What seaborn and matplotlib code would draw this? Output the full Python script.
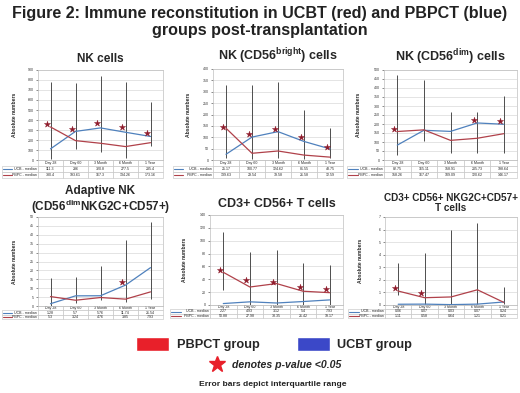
import numpy as np
import pandas as pd
import matplotlib
matplotlib.use('Agg')
import matplotlib.pyplot as plt
import seaborn as sns
from matplotlib.patches import Patch
from matplotlib.lines import Line2D

sns.set_theme(style='white')
plt.rcParams['font.family'] = ['Liberation Sans', 'DejaVu Sans']
plt.rcParams['mathtext.fontset'] = 'custom'
plt.rcParams['mathtext.rm'] = 'Liberation Sans'
plt.rcParams['mathtext.bf'] = 'Liberation Sans:bold'

# time points (x categories / table header)
times = ['Day 28', 'Day 60', '3 Month', '6 Month', '1 Year']

# NK cells
nk_ucb = [111.3, 286, 320.8, 277.5, 235.4]
nk_pbpc = [330.4, 193.61, 167.3, 134.26, 173.16]
nk_lo = [15, 115, 80, 17, 140]
nk_hi = [780, 770, 840, 783, 583]
nk_star = [357, 307, 367, 333, 273]

# NK CD56 bright
br_ucb = [25.17, 100.77, 124.62, 81.55, 48.75]
br_pbpc = [139.63, 29.54, 39.58, 21.58, 12.59]
br_lo = [10, 5, 10, 5, 10]
br_hi = [331, 331, 341, 220, 140]
br_star = [147, 113, 135, 103, 59]

# NK CD56 dim
dim_ucb = [82.75, 165.11, 158.91, 205.73, 198.64]
dim_pbpc = [158.26, 167.47, 109.09, 120.62, 146.17]
dim_lo = [28, 107, 37, 37, 37]
dim_hi = [472, 444, 269, 269, 356]
dim_star = [170, None, None, 222, 217]

# Adaptive NK
ad_ucb = [1.28, 5.7, 5.76, 11.74, 21.54]
ad_pbpc = [5.3, 3.24, 4.76, 3.85, 7.93]
ad_lo = [0, 1.5, 3.4, 2.4, 3.7]
ad_hi = [15.5, 16.4, 22.4, 37, 47.2]
ad_star = [None, None, None, 13.4, None]

# CD3+ CD56+ T cells
t_ucb = [2.27, 4.93, 3.12, 5.4, 7.93]
t_pbpc = [50.88, 27.98, 33.35, 21.42, 19.17]
t_lo = [23, 0.5, 0.5, 0.5, 0.5]
t_hi = [114, 83, 85.5, 65, 62]
t_star = [54.4, 38.4, 36.3, 27.5, 24.4]

# CD3+ CD56+ NKG2C+CD57+ T cells
tk_ucb = [0.06, 0.07, 0.03, 0.07, 0.24]
tk_pbpc = [1.11, 0.58, 0.64, 1.21, 0.21]
tk_lo = [0.8, 0.1, 0.1, 0.1, 0.1]
tk_hi = [3.35, 4.1, 6.0, 6.5, 1.4]
tk_star = [1.37, 0.92, None, None, None]

UCB_COL = '#4f81bd'
PBPC_COL = '#b0414a'
STAR_COL = '#8e1a2a'

W, H = 520, 393
fig = plt.figure(figsize=(5.2, 3.93), dpi=100)


def px(l, t, r, b):
    return [l / W, 1 - b / H, (r - l) / W, (b - t) / H]


def panel(rect, title, ucb, pbpc, lo, hi, star, ymax, ystep, lab_px, tab_h, title_pad, tsize):
    ax = fig.add_axes(px(*rect))
    x = np.arange(len(times))
    df = pd.DataFrame({'x': np.concatenate([x, x]),
                       'v': list(ucb) + list(pbpc),
                       'g': ['UCB'] * len(x) + ['PBPC'] * len(x)})
    ax.vlines(x, lo, hi, color='#4d4d4d', lw=0.7, zorder=1)
    sns.lineplot(data=df, x='x', y='v', hue='g', palette={'UCB': UCB_COL, 'PBPC': PBPC_COL},
                 lw=0.9, legend=False, ax=ax, zorder=2)
    sd = pd.DataFrame({'x': x - 0.13, 'v': star}).dropna()
    sns.scatterplot(data=sd, x='x', y='v', marker='*', s=22, color=STAR_COL,
                    edgecolor=STAR_COL, linewidth=0.3, ax=ax, zorder=3)
    ax.set_xlim(-0.5, len(times) - 0.5)
    ax.set_ylim(0, ymax)
    ax.set_yticks(np.arange(0, ymax + ystep / 2, ystep))
    ax.yaxis.grid(True, color='#d9d9d9', lw=0.5)
    ax.set_axisbelow(True)
    ax.set_xticks([])
    ax.set_xlabel('')
    ax.tick_params(axis='y', labelsize=2.6, length=1.5, width=0.4, pad=1.5, left=True, colors='#333333')
    for s in ax.spines.values():
        s.set_color('#bfbfbf')
        s.set_linewidth(0.5)
    ax.set_ylabel('Absolute numbers', fontsize=3.6, fontweight='bold')
    ax.yaxis.set_label_coords(-0.17, 0.5)
    ax.set_title(title, fontsize=tsize, fontweight='bold', pad=title_pad, linespacing=1.1)

    # data table under the plot
    aw = rect[2] - rect[0]
    ah = rect[3] - rect[1]
    lw_frac = lab_px / aw
    th = tab_h / ah
    rows = [['UCB - median'] + [f'{v:g}' for v in ucb],
            ['PBPC - median'] + [f'{v:g}' for v in pbpc]]
    tb = ax.table(cellText=rows, colLabels=[''] + times,
                  colWidths=[lw_frac] + [1 / len(times)] * len(times),
                  cellLoc='center', bbox=[-lw_frac, -th, 1 + lw_frac, th])
    tb.auto_set_font_size(False)
    tb.set_fontsize(2.6)
    for (r, c), cell in tb.get_celld().items():
        cell.set_edgecolor('#bfbfbf')
        cell.set_linewidth(0.4)
        if c == 0:
            cell.get_text().set_ha('right')
            cell._loc = 'right'
            cell.PAD = 0.03
        if r == 0 and c == 0:
            cell.set_edgecolor('none')
            cell.visible_edges = ''
    for i, col in enumerate([UCB_COL, PBPC_COL]):
        ax.plot([-lw_frac + 0.01, -lw_frac + 0.08], [-th * (1.5 + i) / 3] * 2,
                color=col, lw=0.8, transform=ax.transAxes, clip_on=False)
    return ax


panel((38, 70, 163, 160), 'NK cells', nk_ucb, nk_pbpc, nk_lo, nk_hi, nk_star, 900, 100, 36, 18, 6, 8.5)
panel((213, 69, 343, 160), r'NK (CD56$^{\mathbf{bright}}$) cells', br_ucb, br_pbpc, br_lo, br_hi,
      br_star, 400, 50, 40, 18, 6, 9)
panel((384, 70, 517, 160), r'NK (CD56$^{\mathbf{dim}}$) cells', dim_ucb, dim_pbpc, dim_lo, dim_hi,
      dim_star, 500, 50, 37, 18, 6, 9)
panel((38, 217, 163, 306), 'Adaptive NK\n' + r'(CD56$^{\mathbf{dim}}$NKG2C+CD57+)', ad_ucb, ad_pbpc,
      ad_lo, ad_hi, ad_star, 50, 5, 36, 13, 4, 8.5)
panel((210, 215, 343, 305), 'CD3+ CD56+ T cells', t_ucb, t_pbpc, t_lo, t_hi, t_star,
      140, 20, 40, 13, 6, 9)
panel((385, 217, 517, 305), 'CD3+ CD56+ NKG2C+CD57+\nT cells', tk_ucb, tk_pbpc, tk_lo, tk_hi,
      tk_star, 7, 1, 37, 13, 4, 7.2)

fig.text(0.5, 1 - 22 / H, 'Figure 2: Immune reconstitution in UCBT (red) and PBPCT (blue)\n'
         'groups post-transplantation', ha='center', va='center', fontsize=11.6,
         fontweight='bold', color='#222222', linespacing=1.1)

grp = [Patch(facecolor='#e8202a', label='PBPCT group'),
       Patch(facecolor='#3b48c8', label='UCBT group')]
fig.legend(handles=grp, loc='center', bbox_to_anchor=(0.527, 1 - 344 / H), ncol=2, frameon=False,
           handlelength=2.6, handleheight=1.3, handletextpad=0.6,
           columnspacing=2.9, prop={'weight': 'bold', 'size': 9.2})
star_h = [Line2D([], [], ls='', marker='*', markersize=12, color='#e8202a',
                 label='denotes p-value <0.05')]
fig.legend(handles=star_h, loc='center', bbox_to_anchor=(0.527, 1 - 365 / H), frameon=False,
           handletextpad=0.4, prop={'weight': 'bold', 'style': 'italic', 'size': 7.6})
fig.text(0.525, 1 - 385 / H, 'Error bars depict interquartile range', ha='center', va='center',
         fontsize=6.1, fontweight='bold', color='#222222')

fig.savefig('out.png', dpi=100)
